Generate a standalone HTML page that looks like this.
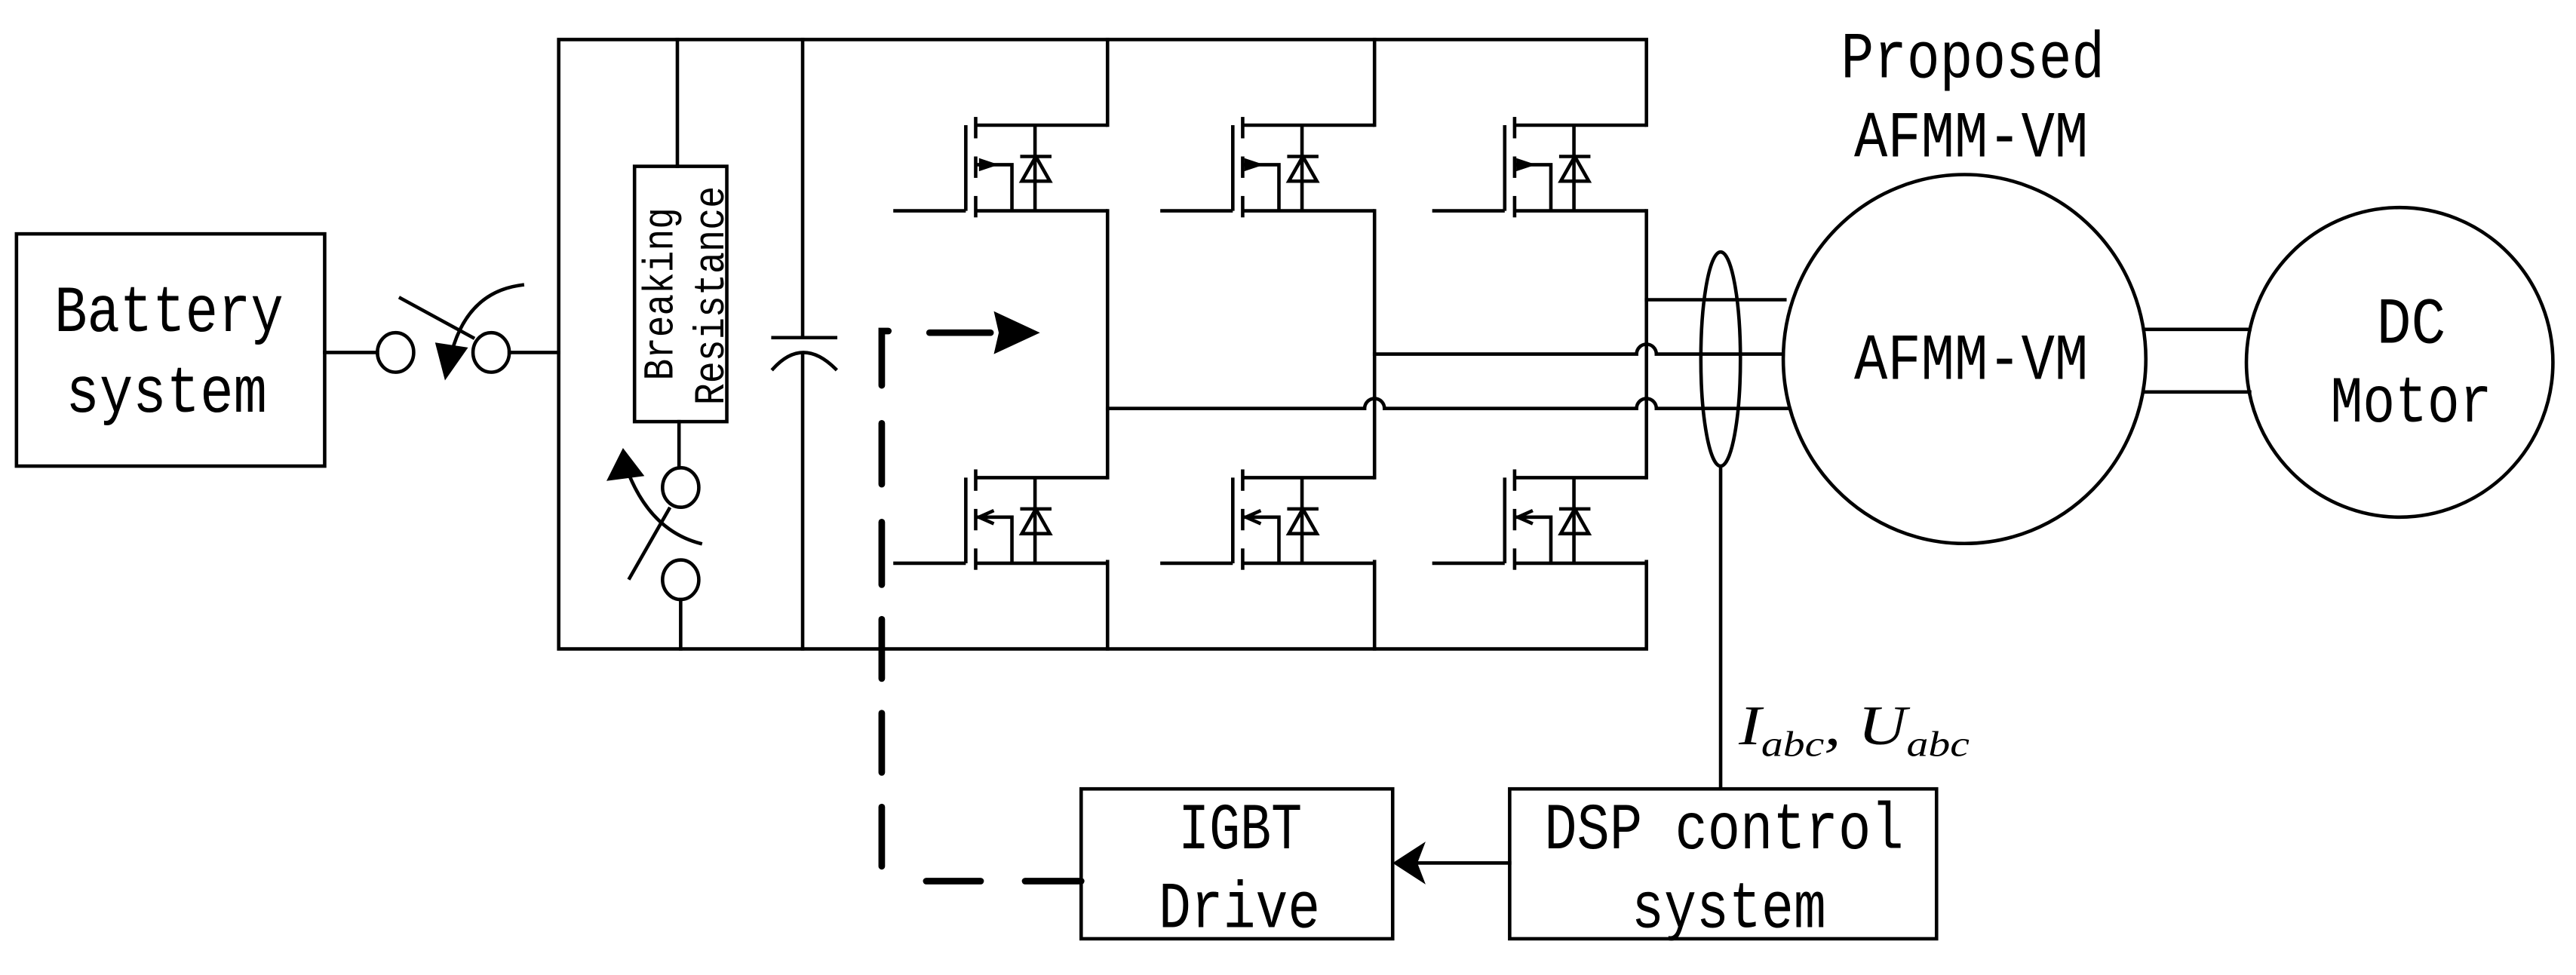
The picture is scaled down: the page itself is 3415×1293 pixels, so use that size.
<!DOCTYPE html>
<html><head><meta charset="utf-8"><style>html,body{margin:0;padding:0;background:#fff}svg{display:block}</style></head>
<body>
<svg width="3415" height="1293" viewBox="0 0 1563 592" preserveAspectRatio="none" xmlns="http://www.w3.org/2000/svg">
<g fill="none" stroke="#000" stroke-width="2.1" stroke-linecap="square">
<rect x="10" y="142" width="187" height="141"/>
<line x1="197" y1="214" x2="229" y2="214"/>
<ellipse cx="240" cy="214" rx="11" ry="12"/>
<ellipse cx="298" cy="214" rx="11" ry="12"/>
<line x1="309" y1="214" x2="339" y2="214"/>
<line x1="243" y1="181" x2="287" y2="205"/>
<path d="M317,173 Q284,177 274,214"/>
<polyline points="999,76 999,24 339,24 339,394 999,394 999,341"/>
<line x1="411" y1="24" x2="411" y2="101"/>
<rect x="385" y="101" width="56" height="155"/>
<line x1="412" y1="256" x2="412" y2="284"/>
<ellipse cx="413" cy="296" rx="11" ry="12"/>
<ellipse cx="413" cy="352" rx="11" ry="12"/>
<line x1="413" y1="364" x2="413" y2="394"/>
<line x1="382" y1="351" x2="406" y2="309"/>
<path d="M425,330 Q394,322 380,284"/>
<line x1="487" y1="24" x2="487" y2="205"/>
<line x1="469" y1="205" x2="507" y2="205"/>
<path d="M469,224 Q487,204 507,224"/>
<line x1="487" y1="215" x2="487" y2="394"/>
<line x1="672" y1="24" x2="672" y2="76"/>
<line x1="834" y1="24" x2="834" y2="76"/>
<line x1="672" y1="128" x2="672" y2="290"/>
<line x1="834" y1="128" x2="834" y2="290"/>
<line x1="999" y1="128" x2="999" y2="290"/>
<line x1="672" y1="341" x2="672" y2="394"/>
<line x1="834" y1="341" x2="834" y2="394"/>
<path d="M672,248 H828 A6,6 0 0 1 840,248 H993 A6,6 0 0 1 1005,248 H1085"/>
<path d="M834,215 H993 A6,6 0 0 1 1005,215 H1082"/>
<line x1="999" y1="182" x2="1083" y2="182"/>
<ellipse cx="1192" cy="218" rx="110" ry="112"/>
<ellipse cx="1456" cy="220" rx="93" ry="94"/>
<line x1="1302" y1="200" x2="1365" y2="200"/>
<line x1="1302" y1="238" x2="1365" y2="238"/>
<ellipse cx="1044" cy="218" rx="12" ry="65"/>
<line x1="1044" y1="283" x2="1044" y2="479"/>
<rect x="656" y="479" width="189" height="91"/>
<rect x="916" y="479" width="259" height="91"/>
<line x1="916" y1="524" x2="858" y2="524"/>
</g>
<g fill="#000">
<polygon points="264,208 284,211 270,231"/>
<polygon points="368,292 391,289 378,272"/>
<polygon points="845,524 865,511 860,524 865,537"/>
<polygon points="603,189 631,202 603,215 606,202"/>
</g>
<defs>
<g id="mt" fill="none" stroke="#000" stroke-width="2.1">
<line x1="542" y1="128" x2="586" y2="128"/>
<line x1="586" y1="76" x2="586" y2="128"/>
<line x1="592" y1="71" x2="592" y2="84"/>
<line x1="592" y1="95" x2="592" y2="108"/>
<line x1="592" y1="119" x2="592" y2="132"/>
<line x1="592" y1="76" x2="672" y2="76"/>
<line x1="592" y1="128" x2="672" y2="128"/>
<polyline points="592,100 614,100 614,128"/>
<line x1="628" y1="76" x2="628" y2="128"/>
<polygon points="620,110 637,110 628.5,95"/>
<line x1="619" y1="95" x2="638" y2="95"/>
</g>
</defs>
<g>
<use href="#mt"/>
<use href="#mt" transform="translate(162,0)"/>
<use href="#mt" transform="translate(327,0)"/>
<use href="#mt" transform="translate(0,214)"/>
<use href="#mt" transform="translate(162,214)"/>
<use href="#mt" transform="translate(327,214)"/>
</g>
<g fill="#000">
<polygon points="594,96 606,100 594,104"/><polygon points="755,96 767,100 755,104"/><polygon points="920,96 932,100 920,104"/>
</g>
<g fill="none" stroke="#000" stroke-width="2.1">
<polyline points="603,310 594,314 603,318"/><polyline points="765,310 756,314 765,318"/><polyline points="930,310 921,314 930,318"/>
</g>
<g stroke="#000" stroke-width="4" stroke-linecap="round" fill="none">
<polyline points="539,201 535,201 535,234"/>
<line x1="535" y1="257" x2="535" y2="294"/>
<line x1="535" y1="317" x2="535" y2="355"/>
<line x1="535" y1="376" x2="535" y2="412"/>
<line x1="535" y1="433" x2="535" y2="469"/>
<line x1="535" y1="490" x2="535" y2="526"/>
<line x1="562" y1="535" x2="595" y2="535"/>
<line x1="622" y1="535" x2="656" y2="535"/>
<line x1="564" y1="202" x2="601" y2="202"/>
</g>
<g font-family="'Liberation Mono', monospace" font-size="40" fill="#000">
<text x="33" y="201" textLength="139" lengthAdjust="spacingAndGlyphs">Battery</text>
<text x="40" y="250" textLength="122" lengthAdjust="spacingAndGlyphs">system</text>
<text x="1117" y="47" textLength="160" lengthAdjust="spacingAndGlyphs">Proposed</text>
<text x="1125" y="95" textLength="142" lengthAdjust="spacingAndGlyphs">AFMM-VM</text>
<text x="1125" y="230" textLength="142" lengthAdjust="spacingAndGlyphs">AFMM-VM</text>
<text x="1442" y="208" textLength="42" lengthAdjust="spacingAndGlyphs">DC</text>
<text x="1414" y="256" textLength="98" lengthAdjust="spacingAndGlyphs">Motor</text>
<text x="715" y="515" textLength="75" lengthAdjust="spacingAndGlyphs">IGBT</text>
<text x="703" y="563" textLength="98" lengthAdjust="spacingAndGlyphs">Drive</text>
<text x="937" y="515" textLength="218" lengthAdjust="spacingAndGlyphs">DSP control</text>
<text x="990" y="563" textLength="118" lengthAdjust="spacingAndGlyphs">system</text>
</g>
<g font-family="'Liberation Mono', monospace" font-size="26" fill="#000">
<text transform="translate(408,231) rotate(-90)" textLength="105" lengthAdjust="spacingAndGlyphs">Breaking</text>
<text transform="translate(439,246) rotate(-90)" textLength="133" lengthAdjust="spacingAndGlyphs">Resistance</text>
</g>
<text x="1055" y="452" font-family="'Liberation Serif', serif" font-style="italic" font-size="34" fill="#000" textLength="140" lengthAdjust="spacingAndGlyphs">I<tspan font-size="22" dy="7">abc</tspan><tspan dy="-7">, U</tspan><tspan font-size="22" dy="7">abc</tspan></text>
</svg>
</body></html>
